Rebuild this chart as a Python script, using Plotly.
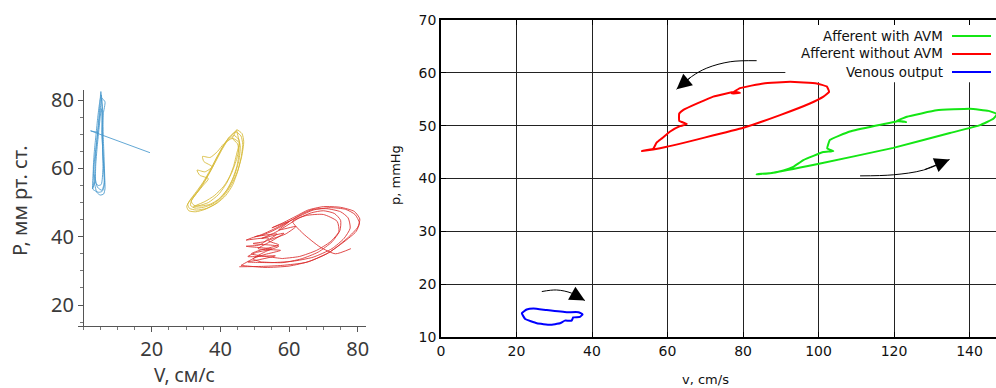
import plotly.graph_objects as go

# ---------------- Left panel data (V, cm/s ; P, mmHg) ----------------
left_blue_cycles_v = [
    [3.2, 3.0, 3.3, 3.8, 4.3, 4.8, 5.3, 5.6, 5.8, 5.9, 6.1, 6.3, 6.4, 6.0, 5.0, 4.0, 3.2],
    [2.8, 2.9, 3.4, 4.0, 4.6, 5.0, 5.5, 6.4, 5.9, 5.6, 5.7, 6.0, 6.2, 5.6, 4.6, 3.4, 2.8],
    [3.5, 3.7, 4.1, 4.6, 5.0, 5.3, 5.5, 5.6, 5.7, 5.8, 5.3, 4.4, 3.5],
    [3.4, 3.6, 4.2, 4.8, 5.2, 5.4, 5.6, 5.5, 5.9, 6.2, 5.5, 4.2, 3.4],
]
left_blue_cycles_p = [
    [56, 60, 65, 70, 75, 79, 81.5, 79, 74, 69, 64, 58, 54, 52.5, 52.2, 53, 56],
    [54, 58, 63, 68, 73, 77, 80.5, 79.5, 76, 71, 66, 60, 55, 53.3, 53, 53.5, 54],
    [56, 61, 66, 71, 75, 77.5, 76, 72, 67, 60, 55.3, 55, 56],
    [58, 63, 70, 77, 82.5, 80, 76, 70, 63, 56, 53.6, 54.5, 58],
]
left_blue_line_v = [19.5, 2.2, 4.5]
left_blue_line_p = [64.6, 71.0, 70.5]

left_yellow_cycles_v = [
    [44.5, 46.0, 46.5, 46.0, 45.0, 43.5, 41.5, 39.0, 36.0, 33.0, 31.0, 30.5, 31.5, 33.5, 35.5, 37.5, 39.2, 40.8, 42.5, 44.5],
    [44.0, 45.3, 45.8, 45.4, 44.2, 42.5, 40.3, 37.8, 35.0, 32.5, 31.3, 31.6, 33.0, 35.0, 36.8, 38.6, 40.3, 42.0, 44.0],
    [43.5, 45.0, 45.4, 44.8, 43.5, 41.8, 39.5, 37.0, 34.5, 32.3, 31.5, 32.5, 34.8, 36.5, 34.0, 33.2, 35.5, 37.6, 35.2, 34.8, 37.0, 39.2, 41.0, 43.5],
    [45.5, 44.8, 43.2, 41.0, 38.2, 35.5, 33.0, 32.0, 33.5, 36.5, 39.5, 42.0, 43.8, 44.8, 45.5],
    [44.8, 46.3, 46.8, 46.2, 45.0, 43.2, 41.0, 38.5, 35.5, 32.8, 30.8, 30.2, 31.0, 33.0, 35.0, 37.0, 38.8, 40.5, 42.3, 44.8],
]
left_yellow_cycles_p = [
    [70.8, 69.5, 67.0, 63.0, 59.0, 55.0, 52.0, 49.8, 48.3, 47.8, 48.3, 49.5, 51.0, 53.5, 56.5, 60.0, 63.5, 66.5, 69.0, 70.8],
    [69.8, 68.6, 66.2, 62.4, 58.2, 54.5, 51.6, 49.6, 48.6, 48.4, 49.2, 50.6, 52.6, 55.4, 58.6, 62.0, 65.2, 68.0, 69.8],
    [68.8, 67.2, 64.5, 60.6, 56.8, 53.6, 51.0, 49.5, 49.0, 49.2, 50.4, 52.0, 54.8, 57.0, 58.0, 59.5, 59.0, 60.5, 62.0, 63.5, 63.2, 65.0, 67.2, 68.8],
    [67.5, 63.0, 58.5, 54.8, 52.0, 50.3, 49.2, 48.6, 49.0, 50.0, 52.4, 56.0, 60.5, 64.5, 67.5],
    [71.3, 70.2, 67.8, 63.5, 59.2, 55.2, 52.0, 49.6, 48.0, 47.3, 47.6, 48.8, 50.5, 53.2, 56.0, 59.5, 63.0, 66.0, 68.8, 71.3],
]

left_red_cycles_v = [
    [45.5, 52.0, 58.0, 65.0, 71.0, 76.0, 79.5, 80.5, 79.2, 76.5, 72.0, 67.0, 63.0, 59.0, 55.5, 52.0, 49.0, 47.5],
    [47.5, 54.0, 51.5, 47.5, 55.0, 50.5, 48.0, 56.0, 51.0, 48.0, 55.0],
    [55.0, 61.0, 67.0, 72.5, 76.0, 77.8, 77.2, 75.0, 71.0, 67.0, 64.0, 61.0, 58.0, 55.0, 52.5, 50.0],
    [50.0, 56.5, 53.0, 49.5, 57.0, 53.5, 49.5, 52.0],
    [52.0, 58.0, 63.5, 68.5, 72.5, 74.8, 75.0, 73.2, 70.0, 66.5, 63.0, 60.5, 58.0, 55.5, 52.0],
    [52.0, 58.5, 55.0, 51.0, 57.5, 53.0, 50.0, 46.0],
    [46.0, 53.0, 60.0, 66.0, 72.0, 77.0, 80.0, 80.6, 79.0, 75.0, 70.0, 65.5, 62.0, 58.5, 55.0],
    [55.0, 60.0, 57.0, 62.0, 59.0, 54.0, 57.0, 52.0, 49.0, 58.0],
    [58.0, 63.0, 68.0, 72.0, 74.5, 74.0, 70.0, 65.0, 61.0, 64.0, 69.0, 73.5, 78.0],
]
left_red_cycles_p = [
    [31.2, 31.3, 31.6, 32.5, 35.0, 38.5, 41.5, 44.0, 46.5, 48.0, 48.5, 47.8, 46.0, 44.0, 42.2, 40.6, 39.6, 39.0],
    [39.0, 39.6, 37.6, 37.2, 36.4, 35.4, 34.2, 34.4, 33.2, 32.6, 32.4],
    [32.4, 32.8, 34.0, 36.5, 39.5, 42.5, 45.5, 47.3, 48.2, 48.0, 46.8, 45.0, 43.2, 41.6, 40.6, 40.0],
    [40.0, 40.8, 38.6, 38.0, 37.2, 35.8, 33.5, 32.6],
    [32.6, 32.4, 33.5, 35.5, 38.5, 41.8, 44.8, 46.8, 47.6, 47.0, 45.5, 44.0, 42.4, 41.0, 39.5],
    [39.5, 41.0, 38.8, 36.5, 36.0, 34.8, 33.8, 31.6],
    [31.6, 31.0, 31.4, 32.8, 35.6, 39.6, 42.8, 45.2, 47.4, 48.6, 48.8, 47.8, 46.0, 44.2, 42.6],
    [42.6, 44.4, 42.0, 43.0, 40.8, 38.8, 37.6, 36.2, 35.0, 33.6],
    [33.6, 34.2, 36.0, 38.5, 41.5, 44.5, 46.5, 46.2, 44.5, 41.0, 37.0, 35.0, 36.5],
]

left_x_ticks = [20, 40, 60, 80]
left_y_ticks = [20, 40, 60, 80]

# ---------------- Right panel data (v, cm/s ; p, mmHg) ----------------
series_names = ["Afferent with AVM", "Afferent without AVM", "Venous output"]
series_colors = ["#14e614", "#ff0000", "#0000ff"]

green_v = [83.6, 88.0, 99.5, 119.8, 134.8, 142.8, 146.3, 147.3, 145.0, 140.1, 131.3, 123.4, 120.7, 123.2, 121.5,
           108.3, 103.0, 102.3, 103.9, 101.3, 96.0, 93.3, 90.7, 87.2, 83.6]
green_p = [40.8, 41.1, 42.7, 45.8, 48.6, 50.1, 51.3, 52.2, 52.8, 53.2, 52.9, 51.7, 50.9, 50.7, 50.9,
           48.9, 47.3, 45.7, 45.2, 45.0, 43.5, 42.2, 41.5, 41.0, 40.8]

red_v = [53.2, 56.2, 59.8, 80.1, 89.8, 97.7, 101.3, 102.8, 102.2, 99.5, 92.5, 85.4, 79.2, 77.0, 79.2, 77.8,
         72.1, 64.2, 63.1, 63.1, 65.1, 63.3, 60.7, 58.5, 57.1, 56.2, 53.2]
red_p = [45.2, 45.5, 46.0, 49.6, 52.0, 54.2, 55.5, 56.4, 57.4, 58.0, 58.3, 58.0, 57.1, 56.1, 56.2, 56.4,
         55.5, 53.0, 52.3, 50.9, 50.3, 49.9, 48.9, 47.6, 46.8, 45.6, 45.2]

blue_v = [21.4, 22.7, 24.5, 28.0, 33.3, 36.4, 37.5, 36.8, 35.0, 34.6, 32.8, 31.5, 28.9, 25.4, 22.3, 21.4]
blue_p = [14.5, 15.2, 15.4, 15.1, 14.7, 14.7, 14.3, 13.8, 13.7, 13.1, 13.1, 12.6, 12.3, 12.6, 13.4, 14.5]

arrow_paths_v = [[83.6, 76.6, 70.4, 66.4, 62.4],
                 [111.0, 119.8, 127.8, 134.7],
                 [26.7, 30.6, 34.6, 38.1]]
arrow_paths_p = [[62.3, 62.1, 60.9, 59.3, 56.9],
                 [40.5, 40.7, 41.6, 43.6],
                 [18.6, 18.9, 18.3, 16.9]]

right_x_ticks = [0, 20, 40, 60, 80, 100, 120, 140]
right_y_ticks = [10, 20, 30, 40, 50, 60, 70]

W, H = 996, 388


def join_cycles(cv, cp):
    xs, ys = [], []
    for a, b in zip(cv, cp):
        xs += a
        ys += b
    return xs, ys


fig = go.Figure()

# Left panel traces
for cv, cp, col in [(left_blue_cycles_v, left_blue_cycles_p, "rgba(70,152,205,0.85)"),
                    (left_yellow_cycles_v, left_yellow_cycles_p, "rgba(214,184,52,0.85)"),
                    (left_red_cycles_v, left_red_cycles_p, "rgba(218,44,44,0.85)")]:
    xs, ys = join_cycles(cv, cp)
    fig.add_trace(go.Scatter(x=xs, y=ys, mode="lines", line=dict(color=col, width=1, shape="spline", smoothing=0.6),
                             xaxis="x", yaxis="y", showlegend=False, hoverinfo="skip"))
fig.add_trace(go.Scatter(x=left_blue_line_v, y=left_blue_line_p, mode="lines",
                         line=dict(color="rgba(70,152,205,0.85)", width=1),
                         xaxis="x", yaxis="y", showlegend=False, hoverinfo="skip"))

# Right panel traces
for name, col, xs, ys in zip(series_names, series_colors, [green_v, red_v, blue_v], [green_p, red_p, blue_p]):
    fig.add_trace(go.Scatter(x=xs, y=ys, mode="lines", name=name,
                             line=dict(color=col, width=2, shape="spline", smoothing=0.3),
                             xaxis="x2", yaxis="y2", showlegend=False, cliponaxis=True))

annotations = []
for av, ap in zip(arrow_paths_v, arrow_paths_p):
    fig.add_trace(go.Scatter(x=av, y=ap, mode="lines", line=dict(color="black", width=1, shape="spline"),
                             xaxis="x2", yaxis="y2", showlegend=False, hoverinfo="skip"))
    annotations.append(dict(x=av[-1], y=ap[-1], ax=av[-2], ay=ap[-2], xref="x2", yref="y2",
                            axref="x2", ayref="y2", showarrow=True, arrowhead=2, arrowsize=3,
                            arrowwidth=1, arrowcolor="black", standoff=0, text=""))

# custom gnuplot-style legend (text, then line sample on the right)
legend_rows_px = [36, 54, 72]
shapes = [dict(type="rect", xref="x2", yref="y2", x0=91.2, x1=150, y0=58.2, y1=70,
               fillcolor="white", line=dict(width=0), layer="between")]
for name, col, ypx in zip(series_names, series_colors, legend_rows_px):
    annotations.append(dict(x=945 / W, y=1 - ypx / H, xref="paper", yref="paper", text=name,
                            showarrow=False, xanchor="right", yanchor="middle",
                            font=dict(family="DejaVu Sans", size=13.4, color="#111")))
    shapes.append(dict(type="line", xref="paper", yref="paper", x0=952 / W, x1=991 / W,
                       y0=1 - ypx / H, y1=1 - ypx / H, line=dict(color=col, width=2)))

# axis titles
annotations += [
    dict(x=184 / W, y=1 - 375 / H, xref="paper", yref="paper", text="V, см/с", showarrow=False,
         font=dict(family="Noto Sans", size=19, color="#3a3a3a"), xanchor="center", yanchor="middle"),
    dict(x=19 / W, y=1 - 201 / H, xref="paper", yref="paper", text="P, мм рт. ст.", showarrow=False,
         textangle=-90, font=dict(family="Noto Sans", size=20, color="#3a3a3a"), xanchor="center", yanchor="middle"),
    dict(x=705 / W, y=1 - 379 / H, xref="paper", yref="paper", text="v, cm/s", showarrow=False,
         font=dict(family="DejaVu Sans", size=13, color="#111"), xanchor="center", yanchor="middle"),
    dict(x=396 / W, y=1 - 175 / H, xref="paper", yref="paper", text="p, mmHg", showarrow=False,
         textangle=-90, font=dict(family="DejaVu Sans", size=13, color="#111"), xanchor="center", yanchor="middle"),
]

left_font = dict(family="Noto Sans", size=20, color="#3a3a3a")
right_font = dict(family="DejaVu Sans", size=14, color="#111")

fig.update_layout(
    width=W, height=H, autosize=False,
    margin=dict(l=0, r=0, t=0, b=0, pad=0),
    paper_bgcolor="white", plot_bgcolor="rgba(0,0,0,0)",
    showlegend=False,
    xaxis=dict(domain=[78 / W, 366 / W], range=[-1.46, 82.4], anchor="y", automargin=False,
               showline=True, linecolor="#555", linewidth=1, showgrid=False, zeroline=False,
               ticks="outside", ticklen=5, tickcolor="#555", tickvals=left_x_ticks, tickfont=left_font,
               minor=dict(ticks="outside", ticklen=3, dtick=5, tickcolor="#777", tick0=0)),
    yaxis=dict(domain=[1 - 326 / H, 1 - 90 / H], range=[13.85, 82.96], anchor="free", position=83 / W,
               automargin=False,
               showline=True, linecolor="#555", linewidth=1, showgrid=False, zeroline=False,
               ticks="outside", ticklen=5, tickcolor="#555", tickvals=left_y_ticks, tickfont=left_font,
               minor=dict(ticks="outside", ticklen=3, dtick=5, tickcolor="#777", tick0=0)),
    xaxis2=dict(domain=[441 / W, 1.0], range=[0, 147.0], anchor="y2", automargin=False,
                showline=True, mirror="ticks", linecolor="black", linewidth=1.5,
                showgrid=True, gridcolor="#222", gridwidth=1, zeroline=False,
                ticks="inside", ticklen=5, tickcolor="black", tickvals=right_x_ticks, tickfont=right_font),
    yaxis2=dict(domain=[1 - 337 / H, 1 - 20 / H], range=[10, 70], anchor="x2", automargin=False,
                showline=True, linecolor="black", linewidth=1.5,
                showgrid=True, gridcolor="#222", gridwidth=1, zeroline=False,
                ticks="inside", ticklen=5, tickcolor="black", tickvals=right_y_ticks, tickfont=right_font),
    annotations=annotations,
    shapes=shapes,
)

fig.write_html("out.html", config={"displayModeBar": False},
               post_script="document.body.style.margin='0';document.body.style.overflow='hidden';")
